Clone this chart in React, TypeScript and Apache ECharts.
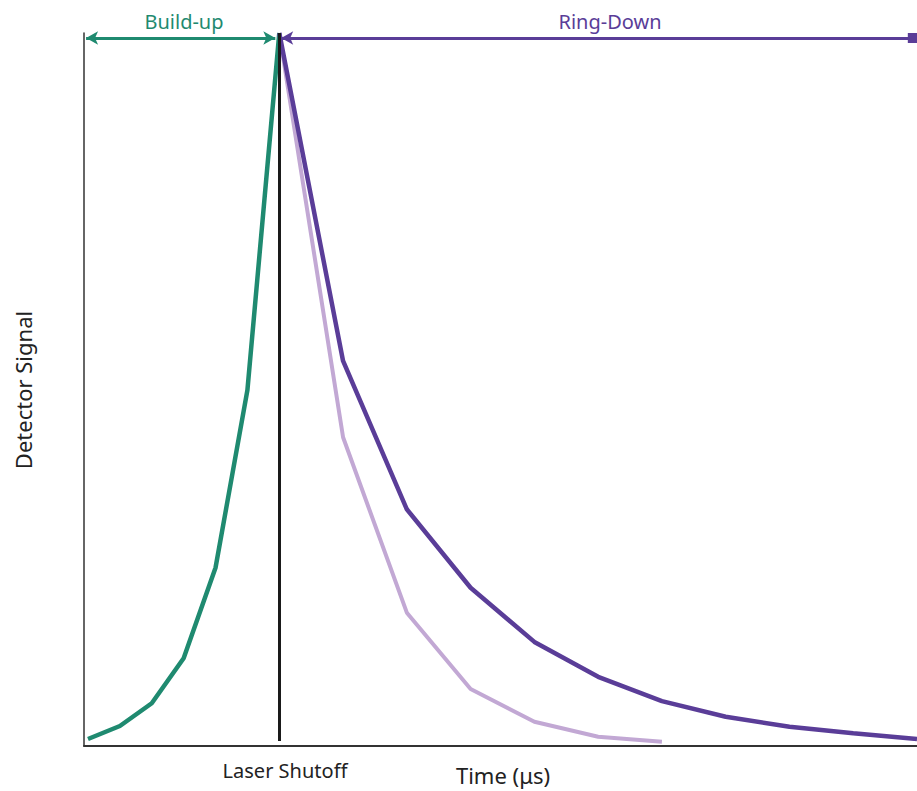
import React, { useEffect, useRef } from "react";
import * as echarts from "echarts";

// Build-up (green), x in time steps
const buildX = [0, 1, 2, 3, 4, 5, 6];
const buildY = [0.0098, 0.028, 0.06, 0.123, 0.25, 0.499, 1];
// Ring-down, slow (dark purple)
const ringX = [6, 8, 10, 12, 14, 16, 18, 20, 22, 24, 26];
const ringY = [1, 0.54, 0.332, 0.222, 0.146, 0.097, 0.063, 0.041, 0.027, 0.018, 0.0098];
// Ring-down, fast (light purple)
const fastX = [6, 8, 10, 12, 14, 16, 18];
const fastY = [1, 0.433, 0.187, 0.08, 0.034, 0.013, 0.006];

const shutoffX = 6;
const labels = {
  x: "Time (\u03bcs)",
  y: "Detector Signal",
  shutoff: "Laser Shutoff",
  build: "Build-up",
  ring: "Ring-Down",
};

const GREEN = "#1f8a70";
const PURPLE = "#5a3d98";
const LIGHT = "#c2a8d4";
const FONT = "'Noto Sans', 'Open Sans', sans-serif";

const zip = (xs: number[], ys: number[]) => xs.map((x, i) => [x, ys[i]]);

export default function App() {
  const ref = useRef<HTMLDivElement>(null);
  useEffect(() => {
    if (!ref.current) return;
    const chart = echarts.init(ref.current, null, { renderer: "svg" });
    chart.setOption({
      animation: false,
      backgroundColor: "#ffffff",
      grid: { left: 84, top: 33, width: 836, height: 713, containLabel: false },
      xAxis: {
        type: "value",
        min: -0.125,
        max: 26,
        axisLine: { show: true, onZero: false, lineStyle: { color: "#333", width: 2 } },
        axisTick: { show: false },
        axisLabel: { show: false },
        splitLine: { show: false },
      },
      yAxis: {
        type: "value",
        min: 0,
        max: 1,
        axisLine: { show: true, onZero: false, lineStyle: { color: "#333", width: 1.5 } },
        axisTick: { show: false },
        axisLabel: { show: false },
        splitLine: { show: false },
      },
      series: [
        {
          type: "line",
          data: zip(fastX, fastY),
          symbol: "none",
          lineStyle: { color: LIGHT, width: 4 },
          z: 2,
        },
        {
          type: "line",
          data: zip(ringX, ringY),
          symbol: "none",
          lineStyle: { color: PURPLE, width: 4.5 },
          z: 4,
          markLine: {
            silent: true,
            symbol: ["arrow", "rect"],
            symbolSize: [10, 12],
            label: { show: false },
            lineStyle: { color: PURPLE, width: 3, type: "solid" },
            data: [[{ coord: [6.06, 0.993] }, { coord: [25.9, 0.993] }]],
          },
        },
        {
          type: "line",
          data: zip(buildX, buildY),
          symbol: "none",
          lineStyle: { color: GREEN, width: 4.5 },
          z: 3,
          markLine: {
            silent: true,
            symbol: ["arrow", "arrow"],
            symbolSize: [10, 12],
            label: { show: false },
            lineStyle: { color: GREEN, width: 3, type: "solid" },
            data: [[{ coord: [-0.06, 0.993] }, { coord: [5.875, 0.993] }]],
          },
        },
        {
          type: "line",
          data: [],
          symbol: "none",
          z: 1,
          markLine: {
            silent: true,
            symbol: ["none", "none"],
            label: { show: false },
            lineStyle: { color: "#1a1a1a", width: 3, type: "solid" },
            data: [[{ coord: [shutoffX, 0.007] }, { coord: [shutoffX, 1] }]],
          },
        },
      ],
      graphic: [
        {
          type: "text",
          x: 184,
          y: 21,
          style: { text: labels.build, fill: GREEN, font: `20px ${FONT}`, align: "center", verticalAlign: "middle" },
        },
        {
          type: "text",
          x: 610,
          y: 21,
          style: { text: labels.ring, fill: PURPLE, font: `20px ${FONT}`, align: "center", verticalAlign: "middle" },
        },
        {
          type: "text",
          x: 285,
          y: 770,
          style: { text: labels.shutoff, fill: "#222", font: `20px ${FONT}`, align: "center", verticalAlign: "middle" },
        },
        {
          type: "text",
          x: 503,
          y: 775,
          style: { text: labels.x, fill: "#222", font: `22px ${FONT}`, align: "center", verticalAlign: "middle" },
        },
        {
          type: "text",
          x: 23,
          y: 390,
          rotation: Math.PI / 2,
          style: { text: labels.y, fill: "#222", font: `22px ${FONT}`, align: "center", verticalAlign: "middle" },
        },
      ],
    });
    return () => chart.dispose();
  }, []);
  return (
    <div
      ref={ref}
      style={{ position: "fixed", left: 0, top: 0, width: 917, height: 791 }}
    />
  );
}
